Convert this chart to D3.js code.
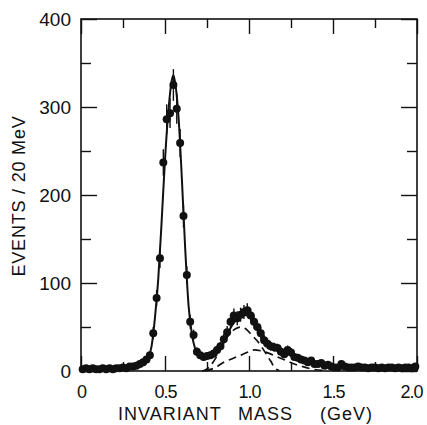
<!DOCTYPE html>
<html>
<head>
<meta charset="utf-8">
<script src="https://cdn.jsdelivr.net/npm/d3@7"></script>
<style>
  body { margin: 0; background: #fff; }
  svg text { font-family: "Liberation Sans", Arial, sans-serif; fill: #111; }
</style>
</head>
<body>
<div id="chart"></div>
<script>
// Measured counts per 20 MeV bin, 0.00 - 2.00 GeV (100 bins)
const binWidth = 0.02;
const counts = [
  2, 3, 2, 3, 2, 2, 3, 2, 3, 2, 3, 3,
  4, 3, 5, 5, 6, 8, 10, 13, 18, 43,
  83, 128, 237, 286, 293, 325, 298, 259, 176, 109,
  56, 41, 22, 18, 16, 17, 18, 20, 24, 28,
  36, 44, 56, 63, 60, 64, 67, 69, 63, 56,
  50, 43, 35, 31, 28, 27, 26, 22, 19, 24,
  21, 16, 15, 13, 12, 10, 12, 8, 8, 9,
  6, 7, 5, 4, 4, 8, 5, 4,
  4, 4, 5, 4, 4, 3, 4, 4, 3, 4, 3, 4, 4, 3, 4, 3, 4, 4, 3, 5
];
const errors = [
  2, 2, 2, 2, 2, 2, 2, 2, 2, 2, 2, 2,
  2, 2, 2, 2, 3, 3, 3, 4, 4, 7,
  9, 11, 15, 17, 17, 18, 17, 16, 13, 10,
  8, 6, 5, 4, 4, 4, 4, 5, 5, 5,
  6, 7, 8, 8, 8, 8, 8, 8, 8, 8,
  7, 7, 6, 6, 5, 5, 5, 5, 4, 5,
  5, 4, 4, 4, 3, 3, 3, 3, 3, 3,
  3, 3, 2, 2, 2, 3, 2, 2,
  2, 2, 2, 2, 2, 2, 2, 2, 2, 2, 2, 2, 2, 2, 2, 2, 2, 2, 2, 2
];

// Total fit (solid)
const fitMass  = [0, 0.1, 0.2, 0.25, 0.3, 0.35, 0.38, 0.4, 0.42, 0.44, 0.46, 0.48, 0.5, 0.52, 0.54, 0.55, 0.56, 0.58, 0.6, 0.62, 0.64, 0.66, 0.68, 0.7, 0.72, 0.75, 0.78, 0.8, 0.83, 0.86, 0.9, 0.95, 1.0, 1.03, 1.06, 1.1, 1.15, 1.2, 1.25, 1.3, 1.35, 1.4, 1.45, 1.5, 1.6, 1.8, 2.0];
const fitValue = [2, 2, 2.5, 3, 4, 7, 11, 15, 28, 60, 105, 170, 240, 295, 330, 336, 328, 290, 220, 140, 75, 42, 25, 18, 15, 15, 17, 21, 28, 38, 52, 62, 64, 58, 48, 36, 28, 23, 19, 15, 12, 9, 7, 5, 4, 3.5, 3];

// Narrow component (dashed)
const peak1Mass  = [0.72, 0.74, 0.77, 0.8, 0.84, 0.88, 0.92, 0.95, 0.98, 1.02, 1.05, 1.08, 1.11, 1.13, 1.155, 1.18];
const peak1Value = [0, 1, 6, 14, 29, 41, 48, 50, 48, 40, 34, 26, 17, 11, 3, 0.5];

// Broad component (dashed)
const peak2Mass  = [0.74, 0.8, 0.85, 0.9, 0.95, 1.0, 1.03, 1.07, 1.12, 1.17, 1.22, 1.27, 1.32, 1.38, 1.45];
const peak2Value = [0, 4, 10, 14, 18, 22, 24, 23, 20, 16, 12, 8, 5, 2, 0.5];

const xMajor = [0, 0.5, 1.0, 1.5, 2.0];
const xMinor = [0.25, 0.75, 1.25, 1.75];
const yMajor = [0, 100, 200, 300, 400];
const yMinor = [50, 150, 250, 350];

const W = 427, H = 425;
const margin = { top: 19, right: 10, bottom: 54, left: 81 };
const w = W - margin.left - margin.right;
const h = H - margin.top - margin.bottom;

const svg = d3.select('#chart').append('svg')
  .attr('width', W).attr('height', H);
const g = svg.append('g').attr('transform', `translate(${margin.left},${margin.top})`);

const x = d3.scaleLinear().domain([0, 2]).range([0, w]);
const y = d3.scaleLinear().domain([0, 400]).range([h, 0]);

const ink = '#111';

// Axes (ticks point inward on all four sides)
function styleAxis(sel) {
  sel.select('.domain').remove();
  sel.selectAll('line').attr('stroke', ink).attr('stroke-width', 1.4);
  sel.selectAll('text').attr('font-size', '19px').attr('fill', ink);
}
const xAxis = g.append('g').attr('transform', `translate(0,${h})`)
  .call(d3.axisBottom(x).tickValues(xMajor).tickSize(-15).tickPadding(14)
    .tickFormat(d => d === 0 ? '0' : d3.format('.1f')(d)))
  .call(styleAxis);
xAxis.selectAll('text').attr('font-size', '18px').attr('letter-spacing', '-1px')
  .attr('dx', d => d === 2 ? -6 : 0);
g.append('g').attr('transform', `translate(0,${h})`)
  .call(d3.axisBottom(x).tickValues(xMinor).tickSize(-9).tickFormat(''))
  .call(styleAxis);
g.append('g')
  .call(d3.axisTop(x).tickValues(xMajor).tickSize(-15).tickFormat(''))
  .call(styleAxis);
g.append('g')
  .call(d3.axisTop(x).tickValues(xMinor).tickSize(-9).tickFormat(''))
  .call(styleAxis);
g.append('g')
  .call(d3.axisLeft(y).tickValues(yMajor).tickSize(-16).tickPadding(10))
  .call(styleAxis);
g.append('g')
  .call(d3.axisLeft(y).tickValues(yMinor).tickSize(-10).tickFormat(''))
  .call(styleAxis);
g.append('g').attr('transform', `translate(${w},0)`)
  .call(d3.axisRight(y).tickValues(yMajor).tickSize(-16).tickFormat(''))
  .call(styleAxis);
g.append('g').attr('transform', `translate(${w},0)`)
  .call(d3.axisRight(y).tickValues(yMinor).tickSize(-10).tickFormat(''))
  .call(styleAxis);

// Frame
g.append('rect')
  .attr('x', 0).attr('y', 0).attr('width', w).attr('height', h)
  .attr('fill', 'none').attr('stroke', ink).attr('stroke-width', 1.6);

// Dashed components
const line = d3.line().curve(d3.curveMonotoneX);
g.append('path')
  .attr('d', line(peak1Mass.map((m, i) => [x(m), y(peak1Value[i])])))
  .attr('fill', 'none').attr('stroke', ink).attr('stroke-width', 1.7)
  .attr('stroke-dasharray', '8 5');
g.append('path')
  .attr('d', line(peak2Mass.map((m, i) => [x(m), y(peak2Value[i])])))
  .attr('fill', 'none').attr('stroke', ink).attr('stroke-width', 1.7)
  .attr('stroke-dasharray', '8 5');

// Total fit
g.append('path')
  .attr('d', line(fitMass.map((m, i) => [x(m), y(fitValue[i])])))
  .attr('fill', 'none').attr('stroke', ink).attr('stroke-width', 2);

// Data points with error bars
const pts = counts.map((c, i) => ({ m: binWidth * (i + 0.5), c, e: errors[i] }));
g.append('g').selectAll('line').data(pts).enter().append('line')
  .attr('x1', d => x(d.m)).attr('x2', d => x(d.m))
  .attr('y1', d => y(d.c + d.e)).attr('y2', d => y(Math.max(0, d.c - d.e)))
  .attr('stroke', ink).attr('stroke-width', 1.4);
g.append('g').selectAll('circle').data(pts).enter().append('circle')
  .attr('cx', d => x(d.m)).attr('cy', d => y(d.c))
  .attr('r', 4).attr('fill', ink);

// Axis titles
const xt = svg.append('text')
  .attr('x', 118).attr('y', 420)
  .attr('font-size', '18px').attr('letter-spacing', '1px');
xt.append('tspan').text('INVARIANT');
xt.append('tspan').attr('x', 238).text('MASS');
xt.append('tspan').attr('x', 320).text('(GeV)');

svg.append('text')
  .attr('transform', `translate(25,196) rotate(-90)`)
  .attr('text-anchor', 'middle')
  .attr('font-size', '18px').attr('letter-spacing', '0.8px')
  .text('EVENTS / 20 MeV');
</script>
</body>
</html>
